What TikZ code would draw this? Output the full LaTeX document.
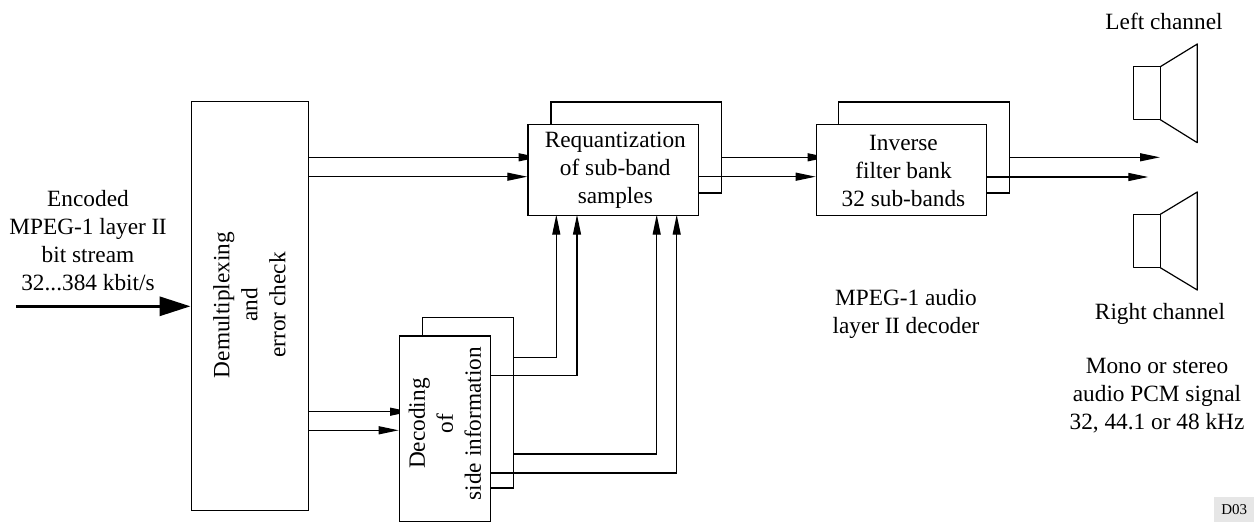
\documentclass[tikz,border=0pt]{standalone}
\usepackage{fontspec}
\setmainfont{Liberation Serif}
\usetikzlibrary{arrows.meta}
\definecolor{tagfill}{HTML}{E6E6E6}
\tikzset{
  ln/.style={line width=1.2pt,draw=black},
  box/.style={ln,fill=white,inner sep=0pt,rectangle,anchor=north west},
  arr/.style={ln,-{Triangle[length=20pt,width=8pt]}},
  big/.style={line width=3.2pt,-{Triangle[length=31pt,width=19pt]}},
  lbl/.style={inner sep=0pt,align=center,font=\fontsize{23.3}{28}\selectfont},
  rlbl/.style={lbl,rotate=90}
}
\begin{document}
\begin{tikzpicture}[x=1pt,y=-1pt]
\useasboundingbox (0,0) rectangle (1254,522);
% back boxes
\node[box,minimum width=170.7pt,minimum height=91pt] (reqB) at (550.3,101.3) {};
\node[box,minimum width=170.7pt,minimum height=91pt] (invB) at (838,101.3) {};
\node[box,minimum width=91pt,minimum height=170.6pt] (decB) at (421.7,316.7) {};
\node[box,minimum width=117.2pt,minimum height=409pt] (dem) at (190.5,101) {};
% arrow ends
\coordinate (a1) at (410,411.7);
\coordinate (a2) at (398.7,430.3);
\coordinate (b1) at (538.5,157.3);
\coordinate (b2) at (527.3,176.7);
\coordinate (c1) at (827.5,157.3);
\coordinate (c2) at (815.7,176.7);
\coordinate (d1) at (1160,157.3);
\coordinate (d2) at (1148.3,177);
\coordinate (u1) at (556.3,214.7);
\coordinate (u2) at (577,214.7);
\coordinate (u3) at (656.7,214.7);
\coordinate (u4) at (676.7,214.7);
\coordinate (v1) at (0,357.7);
\coordinate (v2) at (0,375.3);
\coordinate (v3) at (0,454);
\coordinate (v4) at (0,473);
\coordinate (inS) at (16,306.3);
% arrows hidden in part by the front boxes
\draw[arr] (dem.east |- a1) -- (a1);
\draw[arr] (dem.east |- a2) -- (a2);
\draw[arr] (dem.east |- b1) -- (b1);
\draw[arr] (dem.east |- b2) -- (b2);
\draw[arr] (reqB.east |- c1) -- (c1);
% front boxes
\node[box,minimum width=170.4pt,minimum height=91pt] (req) at (527.3,123.7) {};
\node[box,minimum width=170.4pt,minimum height=91pt] (inv) at (815.7,123.7) {};
\node[box,minimum width=91pt,minimum height=185.4pt] (dec) at (398.7,335.3) {};
% arrows drawn above them
\draw[arr] (req.east |- c2) -- (c2);
\draw[arr] (invB.east |- d1) -- (d1);
\draw[arr] (inv.east |- d2) -- (d2);
\draw[arr] (decB.east |- v1) -| (u1);
\draw[arr] (dec.east |- v2) -| (u2);
\draw[arr] (decB.east |- v3) -| (u3);
\draw[arr] (dec.east |- v4) -| (u4);
\draw[big] (inS) -- (dem.west |- inS);
% texts
\node[lbl] (reqT) at ([shift={(2.2,0.8)}]req.center) {Requantization\\of sub-band\\samples};
\node[lbl] (invT) at ([shift={(2,0.8)}]inv.center) {Inverse\\filter bank\\32 sub-bands};
\node[rlbl] (decT) at ([shift={(0,-5)}]dec.center) {Decoding\\of\\side information};
\node[rlbl] (demT) at (249.3,305) {Demultiplexing\\and\\error check};
\node[lbl] (enc) at (88,240.5) {Encoded\\MPEG-1 layer I\kern-0.6ptI\\bit stream\\32...384 kbit/s};
\node[lbl] (dcd) at (906,313.7) {MPEG-1 audio\\layer I\kern-0.6ptI decoder};
\node[lbl] (lc) at (1164,21.7) {Left channel};
\node[lbl] (rc) at (1160,314) {Right channel};
\node[lbl] (pcm) at (1157,395.7) {Mono or stereo\\audio PCM signal\\32, 44.1 or 48 kHz};
% loudspeakers
\draw[ln,line join=round] (1133.7,66.7) rectangle (1160.3,119.7);
\draw[ln,line join=round] (1160.3,66.7) -- (1197.3,44) -- (1197.3,142.7) -- (1160.3,119.7);
\draw[ln,line join=round] (1133.7,214.3) rectangle (1160.3,267.7);
\draw[ln,line join=round] (1160.3,214.3) -- (1197.3,192) -- (1197.3,290) -- (1160.3,267.7);
% tag
\node[fill=tagfill,inner sep=0pt,minimum width=40pt,minimum height=25.3pt,anchor=north west,font=\fontsize{15}{18}\selectfont] (tag) at (1214,496.7) {D03};
\end{tikzpicture}
\end{document}
